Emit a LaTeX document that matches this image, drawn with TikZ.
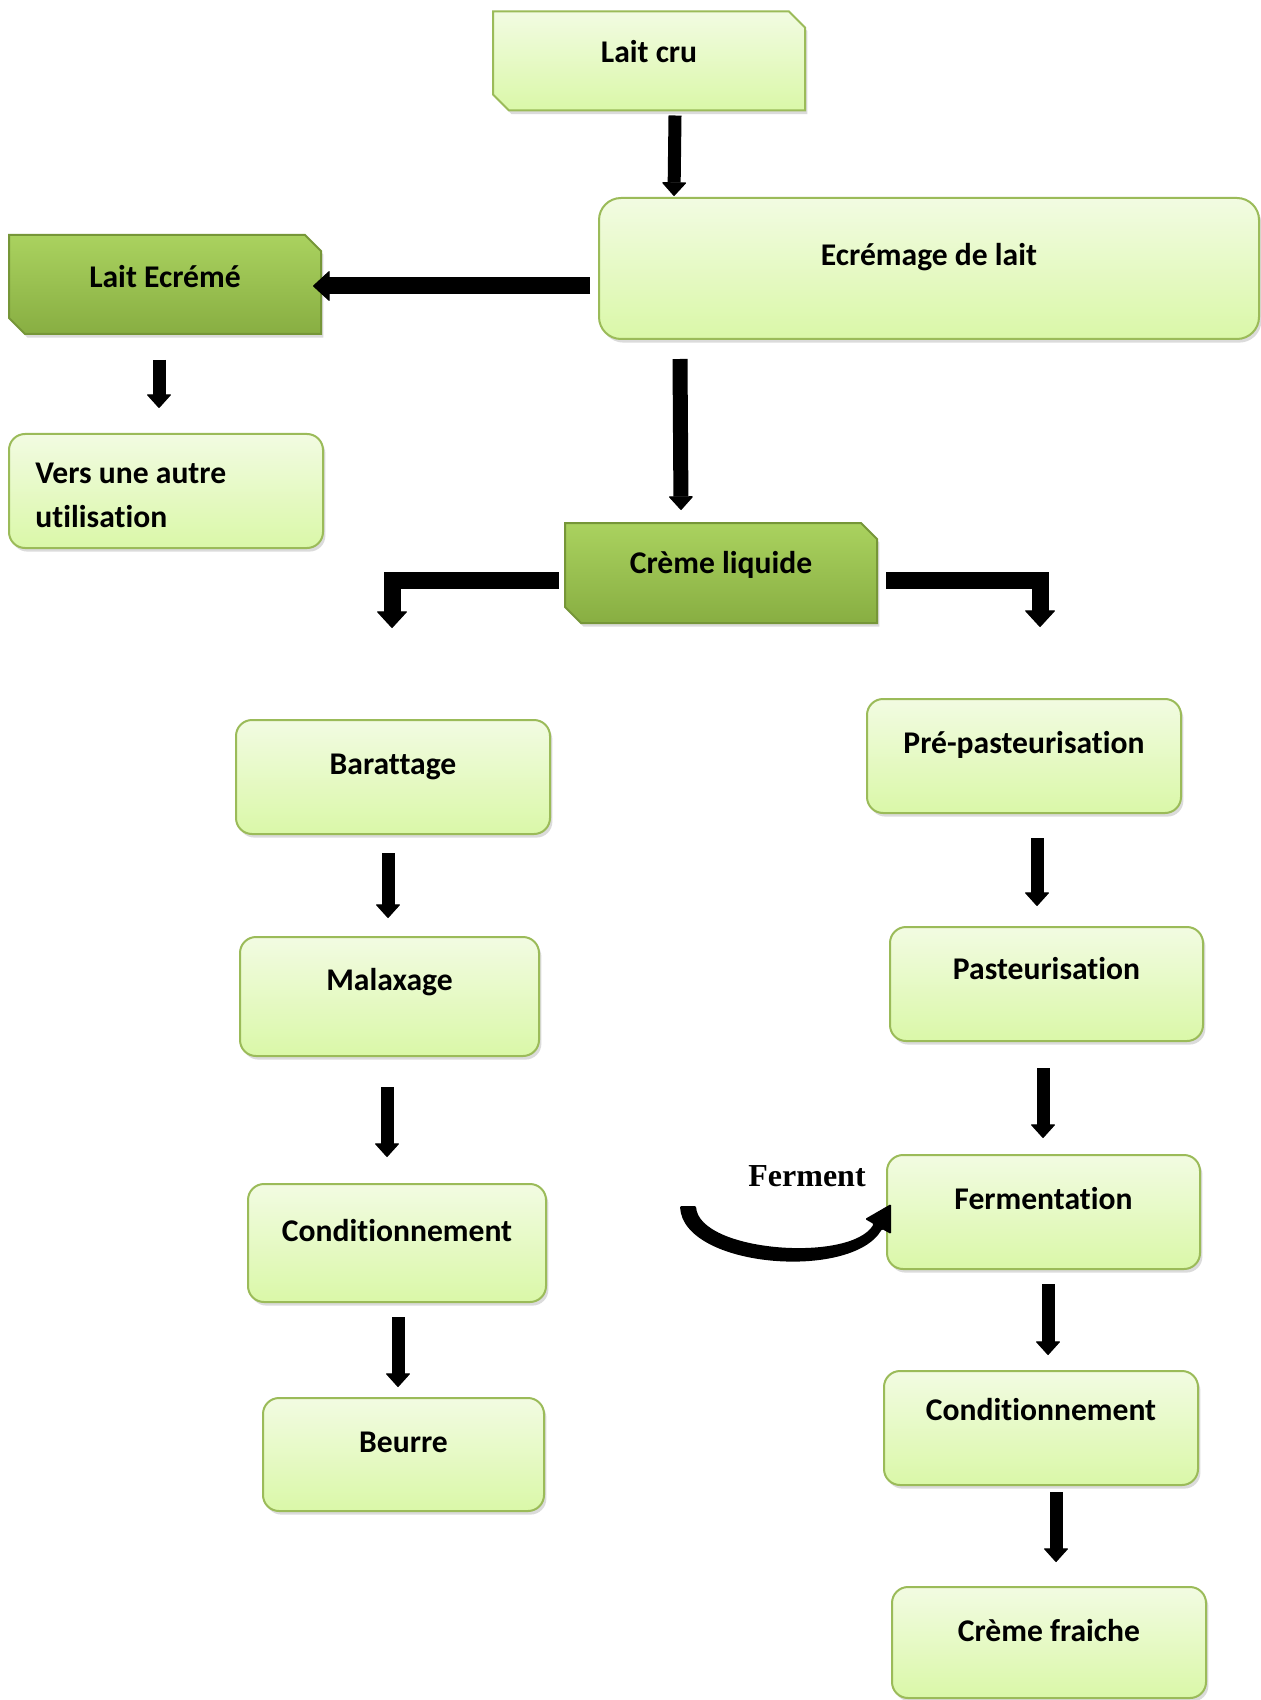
\documentclass[tikz,border=0pt]{standalone}
\usepackage{fontspec}
\setmainfont{Carlito}[Ligatures=NoCommon]
\newfontfamily\serifbold{Liberation Serif}
\usetikzlibrary{arrows.meta,shapes.misc,shadows,calc}

\definecolor{boxtop}{RGB}{242,251,226}
\definecolor{boxbot}{RGB}{218,248,168}
\definecolor{boxline}{RGB}{155,187,89}
\definecolor{darktop}{RGB}{170,210,95}
\definecolor{darkbot}{RGB}{136,174,66}
\definecolor{darkline}{RGB}{118,150,56}

\begin{document}
\begin{tikzpicture}[x=0.5pt,y=-0.5pt,
  txt/.style={font=\fontsize{15.8}{22}\selectfont\bfseries, text=black},
  lift/.style={text height=10.2pt, text depth=#1},
  lift/.default=13pt,
  softshadow/.style={drop shadow={opacity=0.28,shadow xshift=1.2pt,shadow yshift=-1.8pt}},
  lightbox/.style={txt, softshadow, rounded corners=8pt, draw=boxline, line width=1pt,
    top color=boxtop, bottom color=boxbot, inner sep=0pt,
    minimum width=157pt, minimum height=57pt},
  bevel/.style={txt, softshadow, chamfered rectangle, chamfered rectangle corners={north east,south west},
    chamfered rectangle xsep=4pt, chamfered rectangle ysep=4pt, inner sep=0pt,
    minimum width=156pt, minimum height=49.5pt, line width=1pt},
  lightbevel/.style={bevel, draw=boxline, top color=boxtop, bottom color=boxbot},
  darkbevel/.style={bevel, draw=darkline, top color=darktop, bottom color=darkbot},
  varr/.style={line width=6.5pt, -{Triangle[width=12.5pt,length=7pt,line width=0.6pt,round]}},
  harr/.style={line width=8.5pt, line join=miter, -{Triangle[width=15.5pt,length=8.5pt,line width=0.6pt,round]}}
]
\path[use as bounding box, fill=white] (0,0) rectangle (1261,1700);

% top of the chain
\node[lightbevel, lift=8.5pt] (lc) at (649,61) {Lait cru};
\node[lightbox, lift=13.5pt, rounded corners=11pt, minimum width=330pt, minimum height=70.5pt] (ecr) at (929,268.5) {Ecrémage de lait};
\node[darkbevel, lift=7pt] (lecr) at (165,284.5) {Lait Ecrémé};
\node[lightbox] (vers) at (166,491) {};
\node[txt, inner sep=0pt, anchor=west, align=flush left] (verstxt) at ($(vers.west)+(27,4)$) {Vers une autre\\utilisation};
\node[darkbevel, lift=10pt, minimum height=50pt] (cliq) at (721,573) {Crème liquide};

% butter branch
\node[lightbox, lift=12.6pt] (bar) at (393,777) {Barattage};
\node[lightbox, lift=16pt, minimum width=149.5pt, minimum height=59.5pt] (mal) at (389.5,996.5) {Malaxage};
\node[lightbox, lift=12pt, minimum width=149pt, minimum height=59pt] (condl) at (397,1243) {Conditionnement};
\node[lightbox, lift=12pt, minimum width=140.5pt, minimum height=56.5pt] (beurre) at (403.5,1454.5) {Beurre};

% cream branch
\node[lightbox, lift=13pt] (pre) at (1024,756) {Pré-pasteurisation};
\node[lightbox, lift=15pt, minimum width=156.5pt] (past) at (1046.5,984) {Pasteurisation};
\node[lightbox, lift=13pt, minimum width=156.5pt] (ferm) at (1043.5,1212) {Fermentation};
\node[lightbox, lift=18pt] (condr) at (1041,1428) {Conditionnement};
\node[lightbox, lift=11pt, minimum height=55.5pt] (fraiche) at (1049,1642.5) {Crème fraiche};

\node[font=\serifbold\fontsize{16}{19}\selectfont\bfseries, inner sep=0pt] (fermlbl) at (807,1176) {Ferment};

% free ends of the two elbow arrows
\coordinate (lturn) at (392,628);
\coordinate (rturn) at (1040,627);

% connectors
\draw[varr] ($(lc.south)+(26,4)$) -- ($(ecr.north west)+(76,-1)$);
\draw[harr] ($(ecr.west)+(-8,17.5)$) -- ($(lecr.east)+(-9,1.5)$);
\draw[varr] ($(lecr.south)+(-6,25)$) -- ($(vers.north)+(-7,-25)$);
\draw[varr, line width=7.5pt] ($(ecr.south west)+(82,19)$) -- ($(cliq.north)+(-40,-12)$);
\draw[harr] ($(cliq.west)+(-5,7)$) -| (lturn);
\draw[harr] ($(cliq.east)+(8,7)$) -| (rturn);

\draw[varr] ($(bar.south)+(-5,18)$) -- ($(mal.north)+(-1.5,-18)$);
\draw[varr] ($(mal.south)+(-2.5,30)$) -- ($(condl.north)+(-10,-26)$);
\draw[varr] ($(condl.south)+(1,14)$) -- ($(beurre.north)+(-5.5,-10)$);

\draw[varr] ($(pre.south)+(13,24)$) -- ($(past.north)+(-9.5,-20)$);
\draw[varr] ($(past.south)+(-3.5,26)$) -- ($(ferm.north)+(-0.5,-16)$);
\draw[varr] ($(ferm.south)+(4.5,14)$) -- ($(condr.north)+(7,-15)$);
\draw[varr] ($(condr.south)+(15,6)$) -- ($(fraiche.north)+(7,-24)$);

% curved arrow bringing the ferment into the fermentation step
\begin{scope}[shift={(ferm.west)}]
  \fill[black, rounded corners=0.6pt] (-206,-6) .. controls (-203,56) and (-34,69) .. (-4,17)
    -- (5,22) -- (5,-8) -- (-21,7) -- (-12.3,12)
    .. controls (-35,51) and (-187,40) .. (-190,-6) -- cycle;
\end{scope}
\end{tikzpicture}
\end{document}
